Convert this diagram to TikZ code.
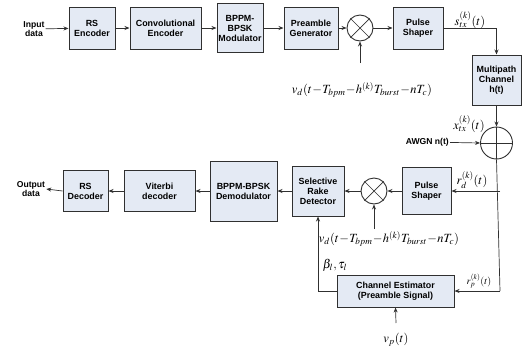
\documentclass[tikz,border=0pt]{standalone}
\usepackage{mathptmx}
\usepackage[no-math]{fontspec}
\setmainfont{Liberation Sans}
\usetikzlibrary{arrows.meta}
\definecolor{boxfill}{HTML}{E4EAF4}
\definecolor{linec}{HTML}{303030}
\tikzset{
  blk/.style={draw=linec, line width=1pt, fill=boxfill, align=center, inner sep=1pt,
    font=\fontsize{8.9}{10}\selectfont\bfseries},
  txt/.style={align=center, font=\fontsize{8.6}{9.8}\selectfont\bfseries, inner sep=1pt},
  mlab/.style={inner sep=0pt, font=\fontsize{12.5}{13}\selectfont},
  circ/.style={draw=linec, line width=0.9pt, circle, fill=white, inner sep=0pt},
  conn/.style={draw=linec, line width=0.7pt},
  arr/.style={conn, -{Stealth[length=5pt,width=4pt]}}
}
\begin{document}
\begin{tikzpicture}[x=1pt,y=-1pt]
\useasboundingbox (0,0) rectangle (525,354);
% top row
\node[txt] (in) at (34,29) {Input\\data};
\node[blk, minimum width=46pt, minimum height=42pt] (rse) at (92,28) {RS\\Encoder};
\node[blk, minimum width=71pt, minimum height=42pt] (ce) at (165.5,28) {Convolutional\\Encoder};
\node[blk, minimum width=46pt, minimum height=49pt] (mod) at (240,28) {BPPM-\\BPSK\\Modulator};
\node[blk, minimum width=54pt, minimum height=42pt] (pg) at (311,28) {Preamble\\Generator};
\node[circ, minimum size=26pt] (m1) at (360,28) {};
\draw[conn] (m1.north west) -- (m1.south east) (m1.north east) -- (m1.south west);
\node[blk, minimum width=50pt, minimum height=42pt] (ps1) at (418,28) {Pulse\\Shaper};
\node[blk, minimum width=49pt, minimum height=50pt] (mc) at (496.5,80) {Multipath\\Channel\\h(t)};
\node[circ, minimum size=32pt] (add) at (496.5,143) {};
\draw[conn] (add.north) -- (add.south) (add.west) -- (add.east);
\node[txt, anchor=east] (awgn) at (450,142) {AWGN n(t)};
\coordinate (v1) at (360,63);
\node[mlab] (lv1) at (362,90) {$v_d(t\!-\!T_{bpm}\!-\!h^{(k)}T_{burst}\!-\!nT_c)$};
\node[mlab] (ls) at (470,20) {$s_{tx}^{(k)}(t)$};
\node[mlab] (lx) at (469,124) {$x_{tx}^{(k)}(t)$};
\draw[arr] (in) -- (rse);
\draw[arr] (rse) -- (ce);
\draw[arr] (ce) -- (mod);
\draw[arr] (mod) -- (pg);
\draw[arr] (pg) -- (m1);
\draw[arr] (m1) -- (ps1);
\draw[arr] (v1) -- (m1.south);
\draw[arr] (ps1.east) -| (mc.north);
\draw[arr] (mc.south) -- (add.north);
\draw[arr] (awgn) -- (add.west);
% bottom row
\node[blk, minimum width=49pt, minimum height=47pt] (ps2) at (426.5,191) {Pulse\\Shaper};
\node[circ, minimum size=26pt] (m2) at (374,191) {};
\draw[conn] (m2.north west) -- (m2.south east) (m2.north east) -- (m2.south west);
\node[blk, minimum width=52pt, minimum height=50pt] (rake) at (318,191) {Selective\\Rake\\Detector};
\node[blk, minimum width=67pt, minimum height=60pt] (dem) at (243.5,191) {BPPM-BPSK\\Demodulator};
\node[blk, minimum width=71pt, minimum height=41pt] (vit) at (159.5,191) {Viterbi\\decoder};
\node[blk, minimum width=45pt, minimum height=41pt] (rsd) at (85.5,191) {RS\\Decoder};
\node[txt] (out) at (31,189) {Output\\data};
\node[blk, minimum width=117pt, minimum height=32pt] (est) at (395.5,291) {Channel Estimator\\(Preamble Signal)};
\coordinate (tapd) at (500,191);
\coordinate (tapp) at (500,291);
\coordinate (v2) at (374,229);
\coordinate (vp) at (396,323);
\coordinate (fb) at (rake.south |- est.west);
\node[mlab] (lv2) at (389,239) {$v_d(t\!-\!T_{bpm}\!-\!h^{(k)}T_{burst}\!-\!nT_c)$};
\node[mlab] (lbt) at (335,265) {$\beta_l,\tau_l$};
\node[mlab] (lrd) at (472,180) {$r_d^{(k)}(t)$};
\node[mlab] (lrp) at (479,281) {\fontsize{10}{11}\selectfont$r_p^{(k)}(t)$};
\node[mlab] (lvp) at (396,340) {$v_p(t)$};
\draw[conn] (add.south) -- (tapp);
\draw[arr] (tapd) -- (ps2.east);
\draw[arr] (tapp) -- (est.east);
\draw[arr] (ps2) -- (m2);
\draw[arr] (m2) -- (rake);
\draw[arr] (v2) -- (m2.south);
\draw[arr] (rake) -- (dem);
\draw[arr] (dem) -- (vit);
\draw[arr] (vit) -- (rsd);
\draw[arr] (rsd.west) -- (out.east);
\draw[arr] (est.west) -- (fb) -- (rake.south);
\draw[arr] (vp) -- (est.south);
\end{tikzpicture}
\end{document}
